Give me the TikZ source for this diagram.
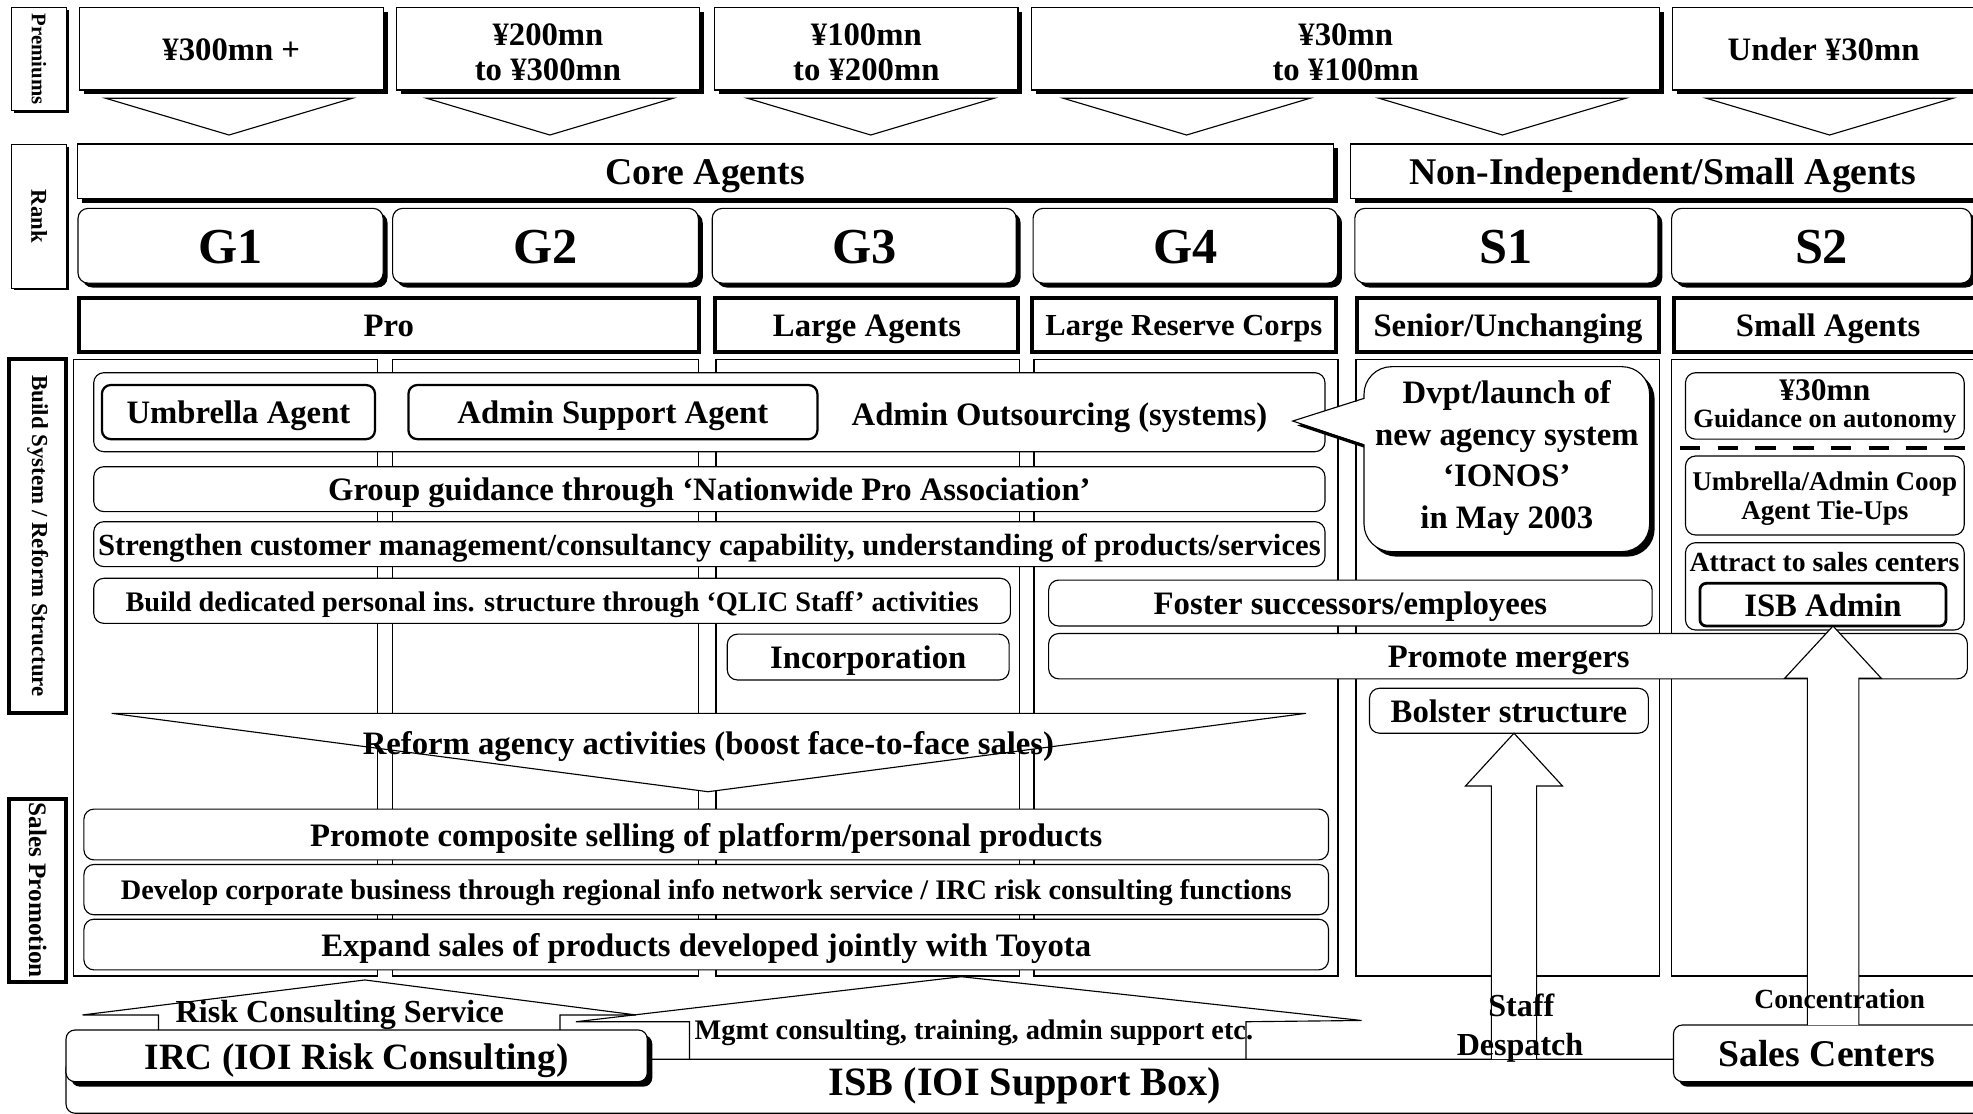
\documentclass[tikz,border=0pt]{standalone}
\usepackage{fontspec}
\setmainfont{Liberation Serif}
\usetikzlibrary{shadows,calc}

% box from corner (x1,y1) to corner (x2,y2): style, name, x1, y1, x2, y2, text
\newcommand\mkbox[7]{%
  \node[#1, minimum width={#5-#3}, minimum height={#6-#4}] (#2) at ({(#3+#5)/2},{(#4+#6)/2}) {#7};}

\tikzset{
  ft/.code={\pgfmathsetmacro\ftHt{0.9*#1}\pgfmathsetmacro\ftDp{0.18*#1}%
    \tikzset{font={\fontsize{#1}{#1}\selectfont\bfseries}, text height=\ftHt pt, text depth=\ftDp pt}},
  fm/.style 2 args={font={\fontsize{#1}{#2}\selectfont\bfseries}, align=center},
}

\begin{document}
\begin{tikzpicture}[x=1pt, y=-1pt, line join=miter,
  every node/.style={inner sep=0pt, outer sep=0pt},
  frame/.style={draw=black, line width=0.9pt, fill=white},
  shad/.style={drop shadow={opacity=1, fill=black, shadow xshift=#1pt, shadow yshift=-#1pt}},
  shad/.default=3.5,
  prem/.style={frame, shad},
  lbl/.style={frame, shad=1.8},
  lblthick/.style={draw=black, line width=3.2pt, fill=white},
  grp/.style={frame, shad},
  gbox/.style={frame, rounded corners=8pt, shad},
  kind/.style={draw=black, line width=3.2pt, fill=white},
  col/.style={draw=black, line width=1.2pt},
  rb/.style={frame, rounded corners=8pt},
  ibox/.style={draw=black, line width=1.8pt, fill=white, rounded corners=7pt},
  ibox2/.style={draw=black, line width=2.2pt, fill=white, rounded corners=5pt},
  shr/.style={frame, rounded corners=7pt, shad=4},
  chev/.style={draw=black, line width=0.9pt},
  aline/.style={draw=black, line width=0.9pt},
  blockarrow/.style={draw=black, line width=0.9pt, fill=white},
  dashline/.style={line width=3.2pt, dash pattern=on 16.4pt off 13.6pt},
]
\useasboundingbox (0,0) rectangle (1568,885.3);
\fill[white] (0,0) rectangle (1568,885.3);

% ---------- side labels ----------
\mkbox{lbl, font={\fontsize{16.5}{16.5}\selectfont\bfseries}}{lprem}{9}{5.8}{53}{88}{\rotatebox{-90}{Premiums}}
\mkbox{lbl, font={\fontsize{18}{18}\selectfont\bfseries}}{lrank}{9}{115}{53}{229}{\rotatebox{-90}{Rank}}
\mkbox{lblthick, font={\fontsize{18.2}{18.2}\selectfont\bfseries}}{lbuild}{7.4}{285.6}{52.6}{566.6}{\rotatebox{-90}{Build System / Reform Structure}}
\mkbox{lblthick, font={\fontsize{20}{20}\selectfont\bfseries}}{lsales}{7.4}{634.6}{52.6}{780.4}{\rotatebox{-90}{Sales Promotion}}

% ---------- premium bands ----------
\mkbox{prem, ft=26}{p1}{63}{5.8}{304.6}{71.5}{¥300mn +}
\mkbox{prem}{p2}{315}{5.8}{556}{71.5}{}
\node[fm={26}{27.8}] (p2T) at (p2.center) [yshift=-3pt] {¥200mn\\to ¥300mn};
\mkbox{prem}{p3}{568}{5.8}{809}{71.5}{}
\node[fm={26}{27.8}] (p3T) at (p3.center) [yshift=-3pt] {¥100mn\\to ¥200mn};
\mkbox{prem}{p4}{820}{5.8}{1319}{71.5}{}
\node[fm={26}{27.8}] (p4T) at (p4.center) [yshift=-3pt] {¥30mn\\to ¥100mn};
\mkbox{prem, ft=26}{p5}{1329}{5.8}{1569.5}{71.5}{Under ¥30mn}

% downward chevrons
\foreach \c in {182,437,692,943,1194,1454}
  \draw[chev] (\c-98,78.1) -- (\c,107.3) -- (\c+98,78.1) -- cycle;

% ---------- rank ----------
\mkbox{grp, ft=30}{core}{61.4}{114.4}{1059.5}{158}{Core Agents}
\mkbox{grp, ft=30}{nonind}{1073.3}{114.4}{1569.5}{158}{Non-Independent/Small Agents}

\mkbox{gbox, ft=40}{g1}{62}{165.6}{304.5}{225}{G1}
\mkbox{gbox, ft=40}{g2}{312}{165.6}{555}{225}{G2}
\mkbox{gbox, ft=40}{g3}{566}{165.6}{807.6}{225}{G3}
\mkbox{gbox, ft=40}{g4}{821}{165.6}{1063}{225}{G4}
\mkbox{gbox, ft=40}{s1}{1076.7}{165.6}{1317.6}{225}{S1}
\mkbox{gbox, ft=40}{s2}{1328.5}{165.6}{1566.8}{225}{S2}

\mkbox{kind, ft=26}{pro}{62.6}{236.6}{555.4}{279.4}{Pro}
\mkbox{kind, ft=26}{large}{568.6}{236.6}{809.4}{279.4}{Large Agents}
\mkbox{kind, ft=24.3}{lrc}{820.2}{236.6}{1061.4}{279.4}{Large Reserve Corps}
\mkbox{kind, ft=26}{senior}{1078.6}{236.6}{1318.4}{279.4}{Senior/Unchanging}
\mkbox{kind, ft=26}{small}{1330.6}{236.6}{1575}{279.4}{Small Agents}

% ---------- column panels ----------
\foreach \a/\b in {58.5/300, 312/555, 569/810.3, 821.7/1063.2, 1077.5/1319, 1328.5/1580}
  \draw[col] (\a,285.7) rectangle (\b,775.6);

% ---------- build system / reform structure ----------
\mkbox{rb}{bb1}{74.5}{296.2}{1053}{359}{}
\mkbox{ibox, ft=26}{umb}{81}{306}{298}{349}{Umbrella Agent}
\mkbox{ibox, ft=26}{asa}{324.6}{306}{649.6}{349}{Admin Support Agent}
\node[ft=26] (aos) at (842,329) {Admin Outsourcing (systems)};

\mkbox{rb, ft=26}{grpg}{74.5}{370.9}{1053}{406.6}{Group guidance through ‘Nationwide Pro Association’}
\mkbox{rb, ft=24.4}{streng}{74.5}{414.6}{1053}{450.3}{Strengthen customer management/consultancy capability, understanding of products/services}
\mkbox{rb, ft=22.5}{qlic}{74.5}{459.6}{803}{495.4}{Build dedicated personal ins. structure through ‘QLIC Staff’ activities}
\mkbox{rb, ft=26}{incorp}{578}{504}{802}{540.4}{Incorporation}
\mkbox{rb, ft=26}{foster}{833.4}{461}{1313}{497.5}{Foster successors/employees}
\mkbox{rb}{merge}{833.4}{503.5}{1563.5}{539.5}{}
\node[ft=26] (mergeT) at (1199,521) {Promote mergers};
\mkbox{rb, ft=26}{bolster}{1088.4}{547}{1310}{582.7}{Bolster structure}

% callout with pointer towards the outsourcing row
\coordinate (ctip) at (1027.4,334.6);
\fill[black] ($(ctip)+(3.5,3.5)$) -- (1088,320.1) -- (1088,357.1) -- cycle;
\mkbox{frame, rounded corners=22pt, shad=4}{callout}{1084}{291.4}{1311}{438.4}{}
\fill[white] (ctip) -- (1086,316.6) -- (1086,353.6) -- cycle;
\draw[aline] (1084,316.6) -- (ctip) -- (1084,353.6);
\node[fm={26}{33}] (calloutT) at (1197.5,364) {Dvpt/launch of\\new agency system\\‘IONOS’\\in May 2003};

% small agents column
\mkbox{rb, fm={21}{21.5}}{guide}{1339.5}{296.2}{1561}{349}{{\fontsize{25}{25}\selectfont ¥30mn}\\Guidance on autonomy}
\draw[dashline] (1335,356.3) -- (1568,356.3);
\mkbox{rb}{coop}{1339.5}{362.4}{1561}{425.2}{}
\node[fm={21.5}{22.8}] (coopT) at (coop.center) [yshift=-2.7pt] {Umbrella/Admin Coop\\Agent Tie-Ups};
\mkbox{rb}{attract}{1339.5}{431.3}{1561}{500.7}{}
\node[ft=22] (attractT) at (1450,446.3) {Attract to sales centers};
\mkbox{ibox2, ft=26}{isbadmin}{1351}{463.6}{1546.5}{497.5}{ISB Admin}

% ---------- reform funnel ----------
\draw[frame] (88.7,566.9) -- (1038,566.9) -- (562.7,629.2) -- cycle;
\node[ft=26] (reform) at (563,590.6) {Reform agency activities (boost face-to-face sales)};

% ---------- sales promotion ----------
\mkbox{rb, ft=26}{comp}{66.7}{643}{1055.8}{683.4}{Promote composite selling of platform/personal products}
\mkbox{rb, ft=22.5}{corp}{66.7}{687}{1055.8}{727}{Develop corporate business through regional info network service / IRC risk consulting functions}
\mkbox{rb, ft=26}{toyota}{66.7}{730.5}{1055.8}{770.8}{Expand sales of products developed jointly with Toyota}

% ---------- support base ----------
\mkbox{frame, rounded corners=7pt}{isb}{52.5}{841.8}{1590}{884.7}{}
\node[ft=32] (isbT) at (814.6,859.3) {ISB (IOI Support Box)};
\mkbox{shr, ft=29.5}{irc}{52.5}{818.6}{514.4}{859.6}{IRC (IOI Risk Consulting)}
\mkbox{shr}{salesc}{1330}{814.6}{1580}{859.6}{}
\node[ft=30] (salescT) at (1452,836.9) {Sales Centers};

% risk consulting service arrow
\coordinate (rcL) at (126,806.6);
\coordinate (rcR) at (445,806.6);
\draw[aline] (rcL |- irc.north) -- (rcL) -- (65.6,806.6) -- (290,778.8) -- (505.5,806.6) -- (rcR) -- (rcR |- irc.north);
\node[ft=25.5] (rcsT) at (270,803.2) {Risk Consulting Service};

% management support arrow
\coordinate (mgL) at (548,812);
\coordinate (mgR) at (990.2,812);
\draw[aline] (mgL |- isb.north) -- (mgL) -- (457.7,812) -- (764,776.2) -- (1082,811) -- (mgR) -- (mgR |- isb.north);
\node[ft=22.5] (mgT) at (774,817.8) {Mgmt consulting, training, admin support etc.};

% staff despatch arrow
\coordinate (stTip) at ($(bolster.south)+(4,0)$);
\path (stTip) ++(-38.5,41.9) coordinate (stHL) ++(20.5,0) coordinate (stSL) ++(36,0) coordinate (stSR) ++(20.5,0) coordinate (stHR);
\draw[blockarrow] (stSL |- isb.north) -- (stSL) -- (stHL) -- (stTip) -- (stHR) -- (stSR) -- (stSR |- isb.north);
\node[ft=25.5] (staffT) at (1209,798.6) {Staff};
\node[ft=25.5] (despT) at (1208,829.7) {Despatch};

% concentration arrow
\coordinate (coTip) at ($(isbadmin.south)+(8,0)$);
\path (coTip) ++(-38.4,41.5) coordinate (coHL) ++(18,0) coordinate (coSL) ++(40.9,0) coordinate (coSR) ++(17.8,0) coordinate (coHR);
\draw[blockarrow] (coSL |- salesc.north) -- (coSL) -- (coHL) -- (coTip) -- (coHR) -- (coSR) -- (coSR |- salesc.north);
\node[ft=22] (concT) at (1462,793.6) {Concentration};

\end{tikzpicture}
\end{document}
